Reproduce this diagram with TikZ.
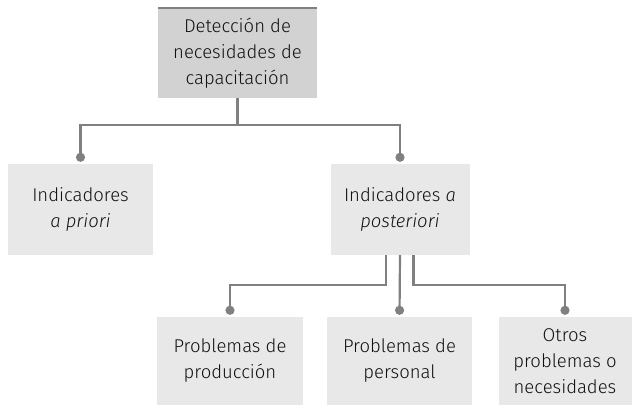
\documentclass[tikz,border=0pt]{standalone}
\usepackage{fontspec}
\setmainfont{Fira Sans}[UprightFont=* Light, ItalicFont=* Light Italic]
\usetikzlibrary{arrows.meta}
\definecolor{linegray}{HTML}{808080}
\definecolor{topfill}{HTML}{D2D2D2}
\definecolor{boxfill}{HTML}{E8E8E8}
\definecolor{txt}{HTML}{111111}
\tikzset{
  box/.style={rectangle, fill=boxfill, inner sep=0pt, align=center, text=txt,
    font=\fontsize{18.5}{26}\selectfont},
  conn/.style={draw=linegray, line width=2.2pt, -{Circle[length=9pt]}, shorten >=2pt}
}
\begin{document}
\begin{tikzpicture}[x=1pt,y=-1pt]
\useasboundingbox (0,0) rectangle (633,406);
\node[box, fill=topfill, minimum width=159pt, minimum height=90pt] (top) at (237.5,53) {Detección de\\necesidades de\\capacitación};
\draw[draw=linegray, line width=2pt] (top.north west) -- (top.north east);
\node[box, minimum width=145pt, minimum height=91pt] (left) at (80.5,209.5) {Indicadores\\\textit{a priori}};
\node[box, minimum width=139pt, minimum height=91pt] (right) at (400,209.5) {Indicadores \textit{a}\\\textit{posteriori}};
\node[box, minimum width=146pt, minimum height=88pt] (b1) at (230,361) {Problemas de\\producción};
\node[box, minimum width=145pt, minimum height=88pt] (b2) at (399.5,361) {Problemas de\\personal};
\node[box, minimum width=133pt, minimum height=88pt] (b3) at (565,361) {Otros\\problemas o\\necesidades};
\draw[conn] (top.south) -- ++(0,27) -| (left.north);
\draw[conn] (top.south) -- ++(0,27) -| (right.north);
\draw[conn] ([xshift=-14pt]right.south) -- ++(0,30) -| (b1.north);
\draw[conn] (right.south) -- (b2.north);
\draw[conn] ([xshift=13.5pt]right.south) -- ++(0,30) -| (b3.north);
\end{tikzpicture}
\end{document}
